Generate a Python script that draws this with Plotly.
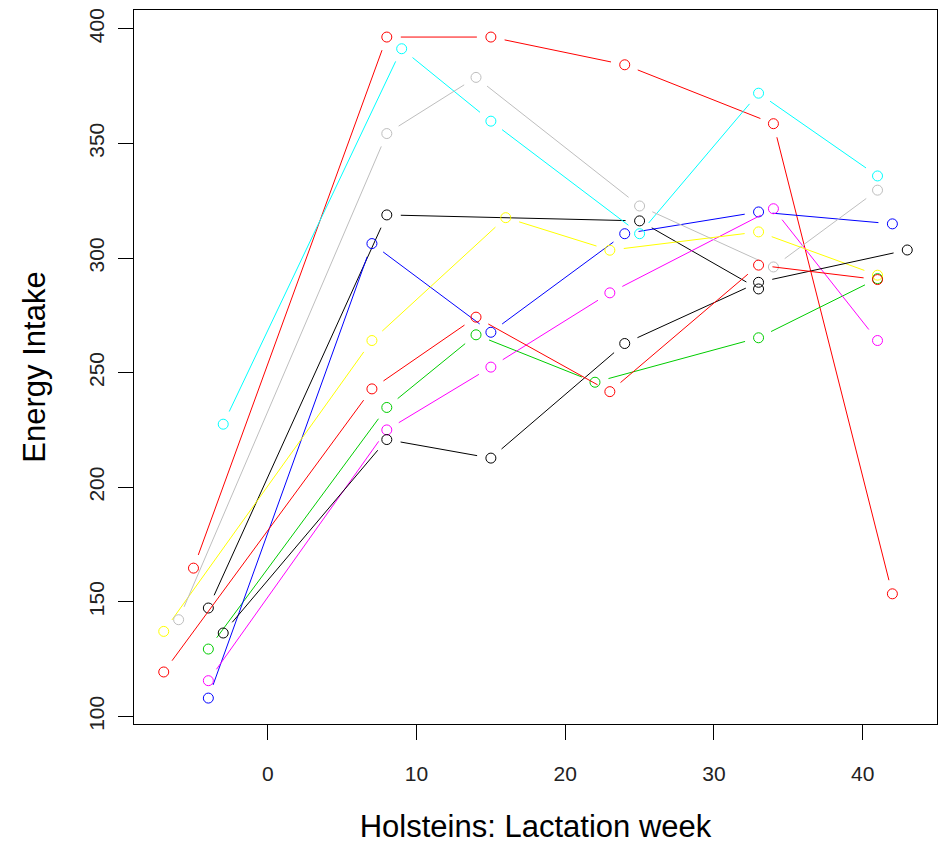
import plotly.graph_objects as go
import math

# ---- data ----
colors = ["#000000", "#FF0000", "#00CD00", "#0000FF", "#00FFFF",
          "#FF00FF", "#FFFF00", "#BEBEBE", "#000000", "#FF0000"]

x_black1 = [-4, 8, 25, 33]
y_black1 = [147.3, 318.8, 316.2, 286.5]
x_red1 = [-5, 8, 15, 24, 34, 42]
y_red1 = [164.7, 396.4, 396.4, 384.3, 358.6, 153.5]
x_green = [-4, 8, 14, 22, 33, 41]
y_green = [129.4, 234.8, 266.5, 245.8, 265.2, 291.0]
x_blue = [-4, 7, 15, 24, 33, 42]
y_blue = [108.0, 306.3, 267.6, 310.6, 320.1, 314.9]
x_cyan = [-3, 9, 15, 25, 33, 41]
y_cyan = [227.5, 391.3, 359.7, 310.6, 371.9, 335.8]
x_magenta = [-4, 8, 15, 23, 34, 41]
y_magenta = [115.6, 225.0, 252.4, 284.8, 321.5, 264.0]
x_yellow = [-7, 7, 16, 23, 33, 41]
y_yellow = [137.1, 264.0, 317.6, 303.4, 311.4, 292.5]
x_gray = [-6, 8, 14, 25, 34, 41]
y_gray = [142.2, 354.3, 378.8, 322.7, 296.1, 329.6]
x_black2 = [-3, 8, 15, 24, 33, 43]
y_black2 = [136.4, 220.8, 212.7, 262.7, 289.4, 303.5]
x_red2 = [-7, 7, 14, 23, 33, 41]
y_red2 = [119.4, 242.9, 274.2, 241.7, 296.9, 290.6]

x_ticks = [0, 10, 20, 30, 40]
y_ticks = [100, 150, 200, 250, 300, 350, 400]

series = [
    (x_black1, y_black1), (x_red1, y_red1), (x_green, y_green),
    (x_blue, y_blue), (x_cyan, y_cyan), (x_magenta, y_magenta),
    (x_yellow, y_yellow), (x_gray, y_gray), (x_black2, y_black2),
    (x_red2, y_red2),
]

# ---- layout geometry ----
W, H = 945, 845
ML, MR, MT, MB = 134, 8, 10, 121
XR = [-9, 45]
YR = [96.7, 408.2]
sx = (W - ML - MR) / (XR[1] - XR[0])   # px per x unit
sy = (H - MT - MB) / (YR[1] - YR[0])   # px per y unit
GAP = 14  # px gap around points (R type="b")

fig = go.Figure()
for (xs, ys), col in zip(series, colors):
    lx, ly = [], []
    for i in range(len(xs) - 1):
        dxp = (xs[i + 1] - xs[i]) * sx
        dyp = (ys[i + 1] - ys[i]) * sy
        L = math.hypot(dxp, dyp)
        if L <= 2 * GAP:
            continue
        f = GAP / L
        ddx = xs[i + 1] - xs[i]
        ddy = ys[i + 1] - ys[i]
        lx += [xs[i] + f * ddx, xs[i + 1] - f * ddx, None]
        ly += [ys[i] + f * ddy, ys[i + 1] - f * ddy, None]
    fig.add_trace(go.Scatter(x=lx, y=ly, mode="lines",
                             line=dict(color=col, width=1),
                             hoverinfo="skip", showlegend=False))
    fig.add_trace(go.Scatter(x=xs, y=ys, mode="markers",
                             marker=dict(symbol="circle-open", size=10,
                                         color=col, line=dict(width=1, color=col)),
                             showlegend=False))

axis_common = dict(showline=True, linecolor="black", linewidth=1, mirror=True,
                   showgrid=False, zeroline=False, ticks="outside",
                   ticklen=15, tickwidth=1, tickcolor="black",
                   tickfont=dict(family="Liberation Sans, Arial, sans-serif",
                                 size=21, color="#222222"))

fig.update_xaxes(range=XR, tickvals=x_ticks, ticktext=[str(v) for v in x_ticks],
                 title=dict(text="Holsteins: Lactation week", standoff=31,
                            font=dict(family="Liberation Sans, Arial, sans-serif",
                                      size=31, color="black")),
                 ticklabelstandoff=16,
                 **axis_common)
fig.update_yaxes(range=YR, tickvals=y_ticks, ticktext=[str(v) for v in y_ticks],
                 tickangle=-90,
                 title=dict(text="Energy Intake", standoff=29,
                            font=dict(family="Liberation Sans, Arial, sans-serif",
                                      size=31, color="black")),
                 ticklabelstandoff=6,
                 **axis_common)

fig.update_layout(width=W, height=H,
                  margin=dict(l=ML, r=MR, t=MT, b=MB, autoexpand=False),
                  paper_bgcolor="white", plot_bgcolor="white")

fig.write_html("out.html")
